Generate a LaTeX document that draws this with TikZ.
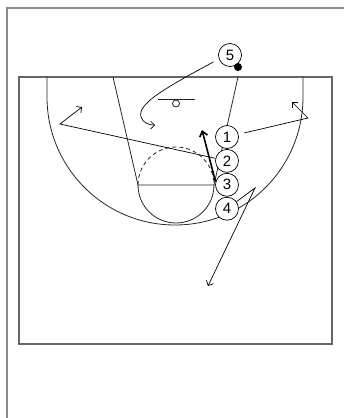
\documentclass[tikz,border=0pt]{standalone}
\usepackage{fontspec}
\setmainfont{Liberation Sans}
\usetikzlibrary{arrows.meta, positioning}
\tikzset{
  font=\fontsize{15}{15}\selectfont,
  player/.style = {circle, draw, fill=white, minimum size=23pt, inner sep=0pt,
                   line width=0.7pt},
  ball/.style   = {circle, fill=black, minimum size=8pt, inner sep=0pt},
  court/.style  = {draw=black!85, line width=0.8pt},
  frame/.style  = {draw=black!45, line width=1.5pt},
  cut/.style    = {-{Straight Barb[length=4pt,width=8pt]}, line width=0.7pt},
  flash/.style  = {-{Straight Barb[length=5pt,width=8pt]}, line width=1.6pt}
}

\begin{document}
\begin{tikzpicture}[x=1pt, y=-1pt, node distance=0.2pt]
  \useasboundingbox (0,0) rectangle (344,418);
  % frame and half court
  \draw[frame] (7,418) -- (7,8) -- (344,8);
  \draw[court, draw=black!60, line width=1.3pt] (19,77) rectangle (332,344);
  \draw[court] (47,77) -- (47,97) arc[start angle=180, end angle=0, radius=128] -- (303,77);
  \draw[court] (113,77) -- (138,185) -- (214,185) -- (238,77);
  \draw[court] (138,185) arc[start angle=180, end angle=0, radius=38];
  \draw[court, dash pattern=on 4pt off 3pt] (138,185) arc[start angle=180, end angle=360, radius=38];
  \draw[court] (158,99) -- (195,99);
  \draw[court] (176,103.5) circle[radius=3.5];
  % players
  \node[player] (p5) at (230,55)  {5};
  \node[ball]   (ball) at (238,67) {};
  \node[player] (p1) at (227,137) {1};
  \node[player] (p2) [below=of p1] {2};
  \node[player] (p3) [below=of p2] {3};
  \node[player] (p4) [below=of p3] {4};
  % cuts
  \coordinate (e5) at (155,125);
  \draw[cut, shorten <=6pt] (p5.200) .. controls (165,88) and (137,104) .. (141,117)
                             .. controls (143,123) and (149,125) .. (e5);
  \coordinate (v1) at (308,118);
  \coordinate (e1) at (292,102);
  \draw[cut, shorten <=6pt] (p1) -- (v1) -- (e1);
  \coordinate (v2) at (60,124);
  \coordinate (e2) at (82,107);
  \draw[cut] (p2) -- (v2) -- (e2);
  \coordinate (e3) at (202,130);
  \draw[flash] (p3.165) -- (e3);
  \coordinate (v4) at (255,188);
  \coordinate (e4) at (208,286);
  \draw[cut] (p4) -- (v4) -- (e4);
\end{tikzpicture}
\end{document}
